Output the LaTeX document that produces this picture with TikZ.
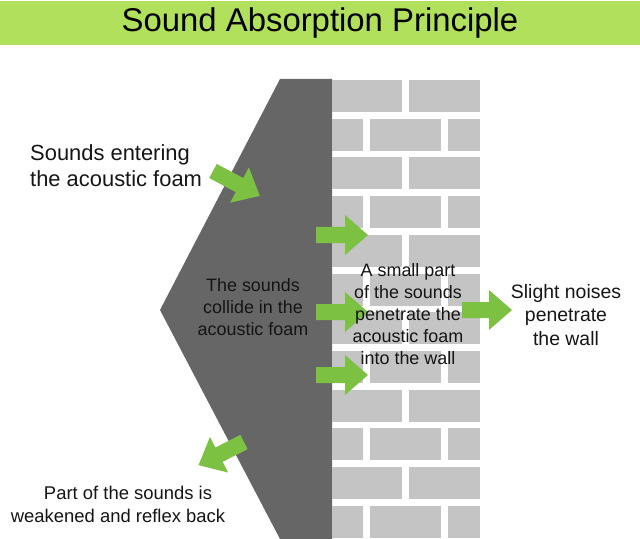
\documentclass[tikz,border=0pt]{standalone}
\usepackage{fontspec}
\setmainfont{Liberation Sans}
\definecolor{titlegreen}{HTML}{B0E05C}
\definecolor{foamgray}{HTML}{666666}
\definecolor{brickgray}{HTML}{C4C4C4}
\definecolor{agreen}{HTML}{7CC142}
\definecolor{txt}{HTML}{151515}
\tikzset{
  brick/.style={fill=brickgray},
  lbl/.style={text=txt, inner sep=0pt, align=center},
}
\newcommand\garrow[4]{%
  \begin{scope}[shift={(#1,#2)},rotate=#3]
    \fill[agreen] (0,-8) -- ({#4-23},-8) -- ({#4-23},-20) -- (#4,0) -- ({#4-23},20) -- ({#4-23},8) -- (0,8) -- cycle;
  \end{scope}}
\begin{document}
\begin{tikzpicture}[x=1bp,y=-1bp]
\useasboundingbox (0,0) rectangle (640,539);
% title bar
\fill[titlegreen] (0,1) rectangle (640,45);
\node[inner sep=0pt, font=\fontsize{33}{38}\selectfont] (title) at (320,23) {Sound Absorption Principle};
% foam
\fill[foamgray] (280,79) -- (332,79) -- (332,539) -- (280,539) -- (160,310) -- cycle;
% bricks
\foreach \r in {0,2,...,10} {
  \fill[brick] (332,{80+38.7*\r}) rectangle (402,{112+38.7*\r});
  \fill[brick] (409,{80+38.7*\r}) rectangle (480,{112+38.7*\r});
}
\foreach \r in {1,3,...,11} {
  \fill[brick] (332,{80+38.7*\r}) rectangle (363,{112+38.7*\r});
  \fill[brick] (370,{80+38.7*\r}) rectangle (441,{112+38.7*\r});
  \fill[brick] (448,{80+38.7*\r}) rectangle (480,{112+38.7*\r});
}
% arrows
\garrow{213}{171}{-28}{53}
\garrow{316}{235}{0}{52}
\garrow{316}{312}{0}{52}
\garrow{316}{375}{0}{52}
\garrow{462}{310}{0}{50}
\garrow{244}{442}{-153}{51}
% texts
\node[lbl, align=left, anchor=west, font=\fontsize{22}{26}\selectfont] (enter) at (30,166) {Sounds entering\\the acoustic foam};
\node[lbl, font=\fontsize{18}{22}\selectfont] (collide) at (253,307) {The sounds\\collide in the\\acoustic foam};
\node[lbl, font=\fontsize{18}{22}\selectfont] (small) at (408,314) {A small part\\of the sounds\\penetrate the\\acoustic foam\\into the wall};
\node[lbl, font=\fontsize{19.5}{24}\selectfont] (slight) at (566,315) {Slight noises\\penetrate\\the wall};
\node[lbl, font=\fontsize{18.5}{23}\selectfont] (reflex) at (118,504) {\hspace*{20bp}Part of the sounds is\\weakened and reflex back};
\end{tikzpicture}
\end{document}
